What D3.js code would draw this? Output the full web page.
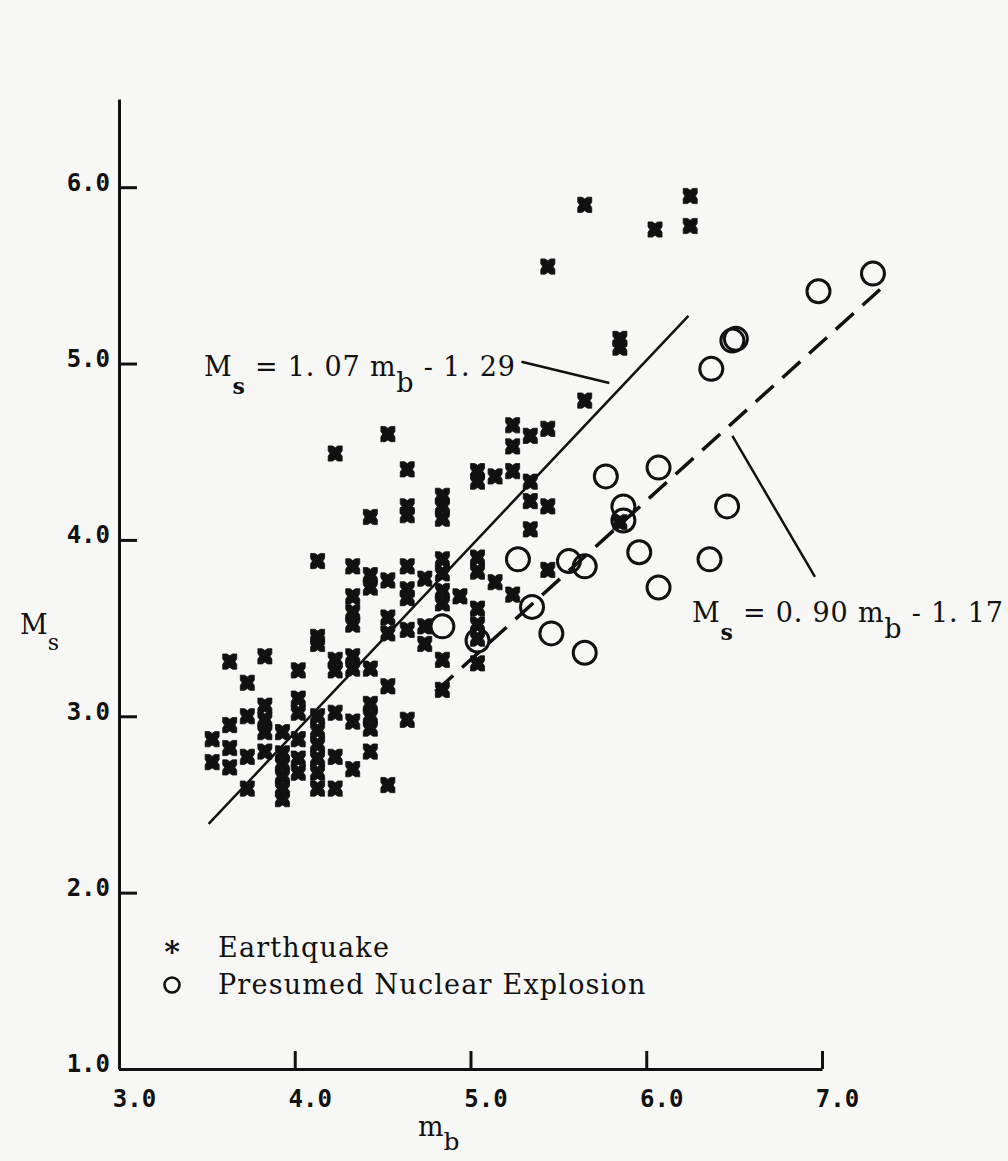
<!DOCTYPE html>
<html>
<head>
<meta charset="utf-8">
<script src="https://cdn.jsdelivr.net/npm/d3@7"></script>
<style>
  body{margin:0;background:#f7f7f5;}
  svg{display:block;}
  .lbl{font-family:"DejaVu Serif",serif;fill:#111;}
  .tick text{font-family:"DejaVu Sans Mono",monospace;font-weight:bold;font-size:24px;fill:#111;}
</style>
</head>
<body>
<div id="chart"></div>
<script>
// mb / Ms values
var earthquakes = [
  [3.53,2.87],[3.53,2.74],
  [3.63,3.31],[3.63,2.95],[3.63,2.82],[3.63,2.71],
  [3.73,3.19],[3.73,3.00],[3.73,2.77],[3.73,2.59],
  [3.83,3.34],[3.83,3.06],[3.83,2.98],[3.83,2.91],[3.83,2.80],
  [3.93,2.91],[3.93,2.79],[3.93,2.73],[3.93,2.66],[3.93,2.59],[3.93,2.53],
  [4.02,3.26],[4.02,3.10],[4.02,3.02],[4.02,2.87],[4.02,2.76],[4.02,2.68],
  [4.13,3.88],[4.13,3.45],[4.13,3.41],[4.13,3.00],[4.13,2.92],[4.13,2.84],[4.13,2.76],[4.13,2.68],[4.13,2.59],
  [4.23,4.49],[4.23,3.32],[4.23,3.26],[4.23,3.02],[4.23,2.77],[4.23,2.59],
  [4.33,3.85],[4.33,3.68],[4.33,3.59],[4.33,3.52],[4.33,3.34],[4.33,3.27],[4.33,2.97],[4.33,2.70],
  [4.43,4.13],[4.43,3.80],[4.43,3.73],[4.43,3.27],[4.43,3.07],[4.43,3.00],[4.43,2.93],[4.43,2.80],
  [4.53,4.60],[4.53,3.77],[4.53,3.56],[4.53,3.47],[4.53,3.17],[4.53,2.61],
  [4.64,4.40],[4.64,4.19],[4.64,4.14],[4.64,3.85],[4.64,3.72],[4.64,3.67],[4.64,3.49],[4.64,2.98],
  [4.74,3.78],[4.74,3.51],[4.74,3.41],
  [4.84,4.25],[4.84,4.19],[4.84,4.12],[4.84,3.89],[4.84,3.81],[4.84,3.71],[4.84,3.64],[4.84,3.32],[4.84,3.15],
  [4.94,3.68],
  [5.04,4.39],[5.04,4.33],[5.04,3.90],[5.04,3.82],[5.04,3.61],[5.04,3.52],[5.04,3.44],[5.04,3.30],
  [5.14,4.36],[5.14,3.76],
  [5.24,4.65],[5.24,4.53],[5.24,4.39],[5.24,3.69],
  [5.34,4.59],[5.34,4.33],[5.34,4.22],[5.34,4.06],
  [5.44,5.55],[5.44,4.63],[5.44,4.19],[5.44,3.83],
  [5.65,5.90],[5.65,4.79],
  [5.85,5.14],[5.85,5.09],[5.85,4.10],
  [6.05,5.76],
  [6.25,5.95],[6.25,5.78]
];

var explosions = [
  [7.29,5.51],[6.98,5.41],[6.49,5.13],[6.51,5.14],[6.37,4.97],
  [5.77,4.36],[6.07,4.41],[5.87,4.19],[5.87,4.11],[6.46,4.19],
  [5.27,3.89],[5.56,3.88],[5.65,3.85],[5.96,3.93],[6.36,3.89],
  [6.07,3.73],[5.35,3.62],[5.04,3.43],[5.46,3.47],[5.65,3.36],[4.84,3.51]
];

// fitted lines as drawn (end points)
var quakeLine = [[3.51,2.39],[6.24,5.27]];
var blastLine = [[4.80,3.14],[7.33,5.42]];
// leader lines from the equation labels
var quakeLeader = [[5.29,5.01],[5.79,4.89]];
var blastLeader = [[6.49,4.59],[6.96,3.79]];

var xTicks = [3,4,5,6,7];
var yTicks = [1,2,3,4,5,6];
var legendNames = ["Earthquake","Presumed Nuclear Explosion"];

var W = 1008, H = 1161;
var ink = "#111";

var svg = d3.select("#chart").append("svg")
    .attr("width", W)
    .attr("height", H);

var x = d3.scaleLinear().domain([3,7]).range([119,822]);
var y = d3.scaleLinear().domain([1,6.5]).range([1069,99]);

//axes
var xAxis = svg.append("g")
    .attr("transform","translate(0,"+y(1)+")")
    .call(d3.axisBottom(x).tickValues(xTicks).tickSizeInner(-18).tickSizeOuter(0)
        .tickPadding(21).tickFormat(d3.format(".1f")));
xAxis.selectAll("text").attr("dx", 15);

var yAxis = svg.append("g")
    .attr("transform","translate("+x(3)+",0)")
    .call(d3.axisLeft(y).tickValues(yTicks).tickSizeInner(-18).tickSizeOuter(0)
        .tickPadding(9).tickFormat(d3.format(".1f")));
yAxis.selectAll("text").attr("dy", "0.12em");

svg.selectAll(".domain, .tick line")
    .attr("stroke", ink)
    .attr("stroke-width", 3);

//axis titles
var xt = svg.append("text").attr("class","lbl").attr("x",418).attr("y",1136).attr("font-size",27);
xt.append("tspan").text("m");
xt.append("tspan").attr("dy",14).attr("font-size",25).text("b");

var yt = svg.append("text").attr("class","lbl").attr("x",20).attr("y",634).attr("font-size",27);
yt.append("tspan").text("M");
yt.append("tspan").attr("dy",16).attr("font-size",22).text("s");

//fitted lines
var line = d3.line().x(function(d){return x(d[0]);}).y(function(d){return y(d[1]);});

svg.append("path").datum(quakeLine)
    .attr("d", line).attr("fill","none").attr("stroke",ink).attr("stroke-width",2.5);

svg.append("path").datum(blastLine)
    .attr("d", line).attr("fill","none").attr("stroke",ink).attr("stroke-width",3.5)
    .attr("stroke-dasharray","24,12");

[quakeLeader, blastLeader].forEach(function(l){
  svg.append("path").datum(l)
      .attr("d", line).attr("fill","none").attr("stroke",ink).attr("stroke-width",2.5);
});

//equation labels
function equation(px, py, a, b){
  var t = svg.append("text").attr("class","lbl").attr("x",px).attr("y",py)
      .attr("font-size",27).attr("letter-spacing",0.8);
  t.append("tspan").text("M");
  t.append("tspan").attr("dy",18).attr("font-size",22).attr("font-weight","bold").text("s");
  t.append("tspan").attr("dy",-18).text(" = "+a+" m");
  t.append("tspan").attr("dy",16).text("b");
  t.append("tspan").attr("dy",-16).text(" - "+b);
}
equation(204, 376, "1. 07", "1. 29");
equation(692, 622, "0. 90", "1. 17");

//earthquake marker (square blot with shallow notches)
function quakeShape(){
  var w=7, h=7.6, d=1.8, n=2.7;
  return "M"+(-w)+","+(-h)+"L"+(-n)+","+(-h)+"L0,"+(-h+d)+"L"+n+","+(-h)+"L"+w+","+(-h)
    +"L"+w+","+(-n)+"L"+(w-d)+",0L"+w+","+n+"L"+w+","+h+"L"+n+","+h+"L0,"+(h-d)
    +"L"+(-n)+","+h+"L"+(-w)+","+h+"L"+(-w)+","+n+"L"+(-w+d)+",0L"+(-w)+","+(-n)+"Z";
}

svg.append("g").selectAll("path")
   .data(earthquakes)
   .enter()
   .append("path")
   .attr("d", quakeShape())
   .attr("transform", function(d){ return "translate("+x(d[0])+","+y(d[1])+")"; })
   .attr("fill", ink)
   .attr("stroke", ink)
   .attr("stroke-width", 0.8)
   .attr("stroke-linejoin", "round");

svg.append("g").selectAll("circle")
   .data(explosions)
   .enter()
   .append("circle")
   .attr("cx", function(d){ return x(d[0]); })
   .attr("cy", function(d){ return y(d[1]); })
   .attr("r", 11.5)
   .attr("fill","none")
   .attr("stroke", ink)
   .attr("stroke-width", 3);

//legend
var legend = svg.append("g");
legend.append("text").attr("class","lbl").attr("x",172).attr("y",962)
    .attr("text-anchor","middle").attr("font-size",30).attr("font-weight","bold").text("*");
legend.append("circle").attr("cx",172).attr("cy",985).attr("r",7.5)
    .attr("fill","none").attr("stroke",ink).attr("stroke-width",2.6);
legend.selectAll("text.name")
    .data(legendNames)
    .enter()
    .append("text")
    .attr("class","lbl name")
    .attr("x",218)
    .attr("y",function(d,i){ return 957 + i*37; })
    .attr("font-size",27)
    .attr("letter-spacing",1.2)
    .text(function(d){ return d; });
</script>
</body>
</html>
